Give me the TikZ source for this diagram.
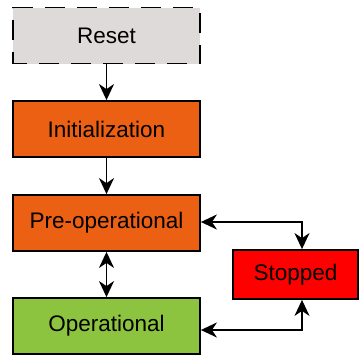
\documentclass[tikz,border=0pt]{standalone}
\usepackage{fontspec}
\setmainfont{Liberation Sans}
\usetikzlibrary{arrows.meta}
\definecolor{resetgray}{RGB}{222,218,218}
\definecolor{initorange}{RGB}{236,96,20}
\definecolor{opgreen}{RGB}{141,196,63}
\definecolor{stopred}{RGB}{255,0,0}
\begin{document}
\begin{tikzpicture}[x=1pt,y=-1pt,
  state/.style={draw=black,line width=1.8pt,minimum width=187pt,minimum height=56pt,inner sep=0pt,font=\fontsize{22.5}{26}\selectfont},
  conn/.style={line width=1.6pt,-{Stealth[length=16pt,width=15pt,inset=5pt]}},
  bconn/.style={line width=1.6pt,{Stealth[length=16pt,width=15pt,inset=5pt]}-{Stealth[length=16pt,width=15pt,inset=5pt]}}]
\useasboundingbox (0,0) rectangle (359,354);
\node[state,fill=resetgray,dash pattern=on 20pt off 12pt,dash phase=6pt] (reset) at (106.5,35.5) {Reset};
\node[state,fill=initorange] (init) at (106.5,129) {Initialization};
\node[state,fill=initorange] (preop) at (106.5,223) {Pre-operational};
\node[state,fill=opgreen] (op) at (106.5,326) {Operational};
\node[state,fill=stopred,minimum width=125pt,minimum height=49pt] (stop) at (295.5,274.5) {Stopped};
\draw[conn] (reset) -- (init);
\draw[conn] (init) -- (preop);
\draw[bconn] (preop) -- (op);
\draw[bconn] (preop.east |- 0,222) -| (stop.north -| 302,0);
\draw[bconn] (op.east |- 0,330) -| (stop.south -| 302,0);
\end{tikzpicture}
\end{document}
